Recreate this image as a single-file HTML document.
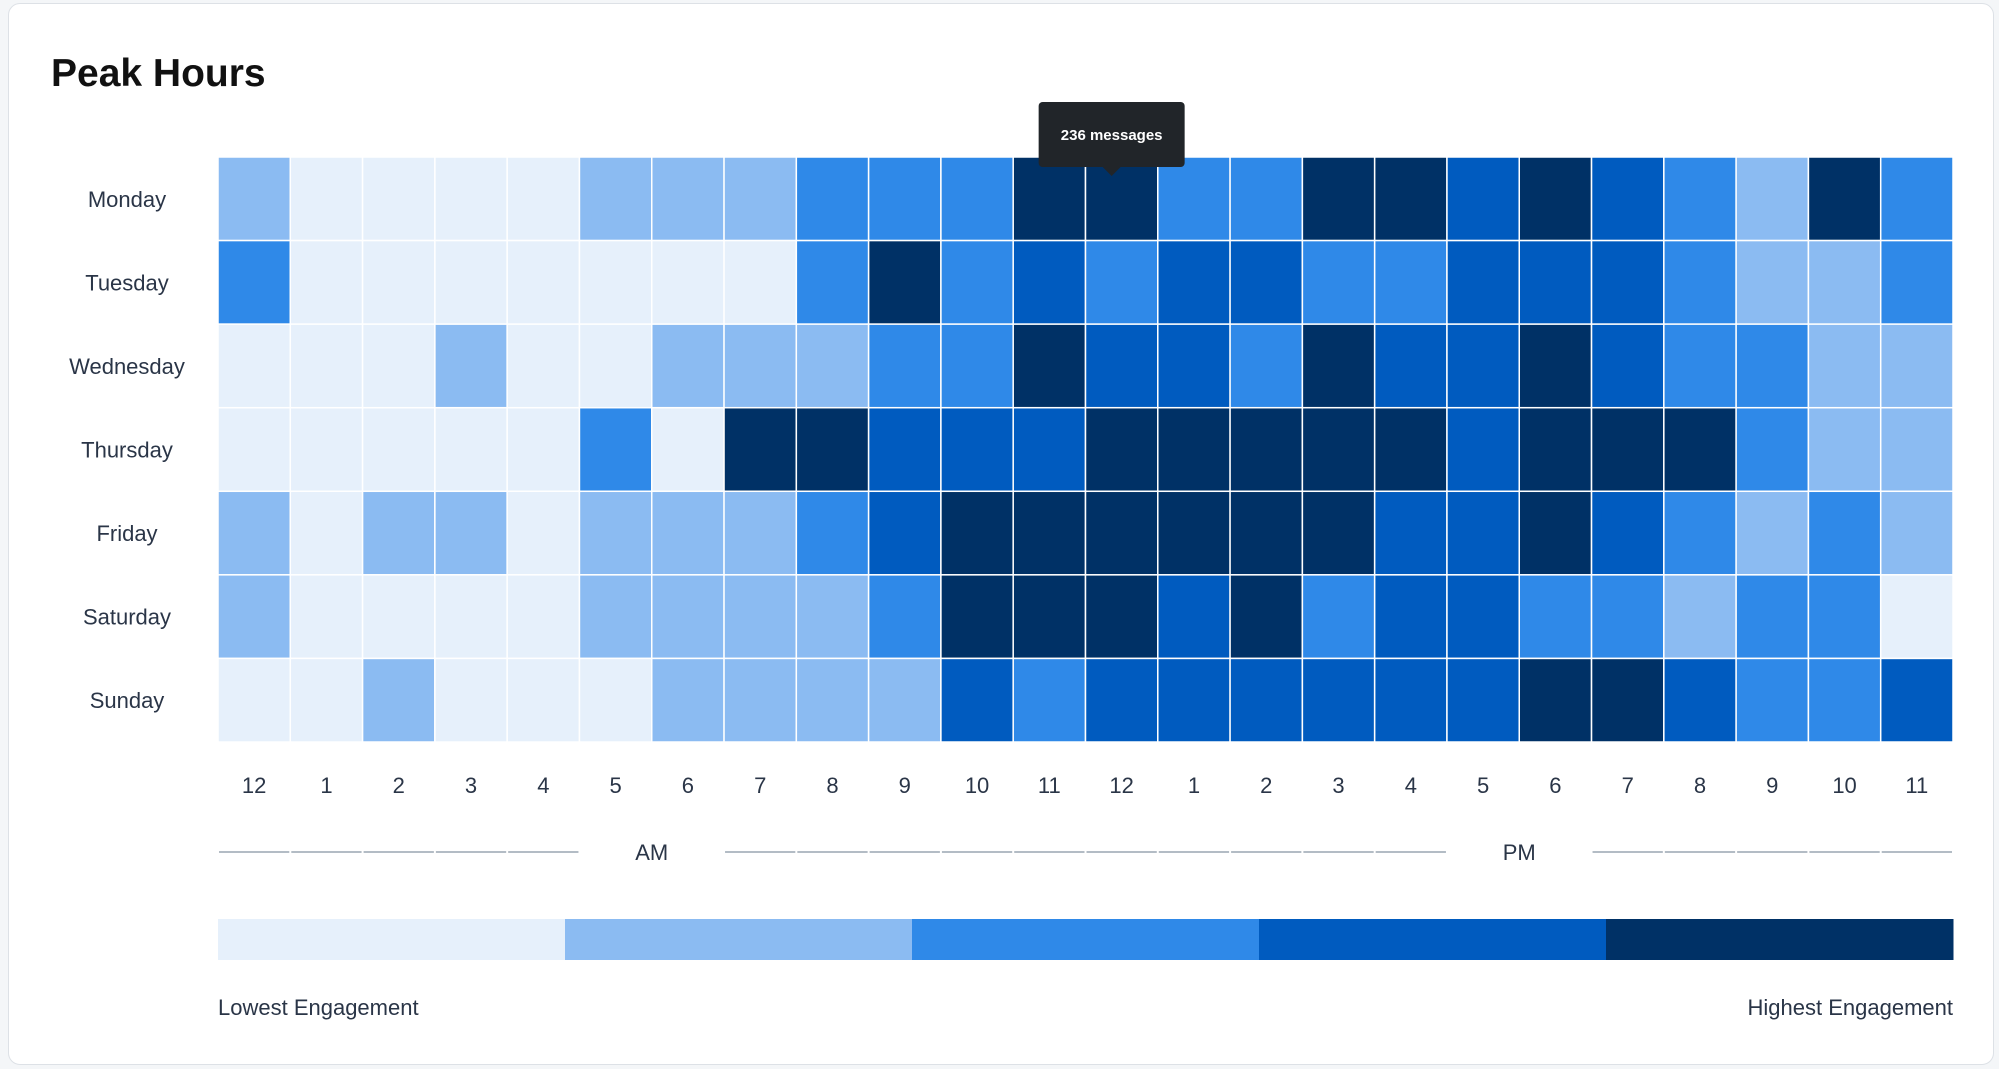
<!DOCTYPE html>
<html><head><meta charset="utf-8">
<style>
html,body{margin:0;padding:0;background:#f4f6f8;}
body{width:1999px;height:1069px;position:relative;overflow:hidden;font-family:"Liberation Sans",sans-serif;}
.card{position:absolute;left:8px;top:3px;width:1986px;height:1062px;background:#fff;border:1px solid #dde1e6;border-radius:12px;box-sizing:border-box;}
h1{position:absolute;left:51px;top:52px;margin:0;font-size:39px;font-weight:bold;color:#111;}
</style></head>
<body>
<div class="card"></div>
<h1>Peak Hours</h1>
<svg id="chart" width="1999" height="1069" style="position:absolute;left:0;top:0"></svg>
<script>
const days=["Monday","Tuesday","Wednesday","Thursday","Friday","Saturday","Sunday"];
const hourLabels=["12","1","2","3","4","5","6","7","8","9","10","11","12","1","2","3","4","5","6","7","8","9","10","11"];
const levelColors=["#e6f0fb","#8bbbf2","#2f89e8","#005bbf","#003166"];
const monday=[1,0,0,0,0,1,1,1,2,2,2,4,4,2,2,4,4,3,4,3,2,1,4,2];
const tuesday=[2,0,0,0,0,0,0,0,2,4,2,3,2,3,3,2,2,3,3,3,2,1,1,2];
const wednesday=[0,0,0,1,0,0,1,1,1,2,2,4,3,3,2,4,3,3,4,3,2,2,1,1];
const thursday=[0,0,0,0,0,2,0,4,4,3,3,3,4,4,4,4,4,3,4,4,4,2,1,1];
const friday=[1,0,1,1,0,1,1,1,2,3,4,4,4,4,4,4,3,3,4,3,2,1,2,1];
const saturday=[1,0,0,0,0,1,1,1,1,2,4,4,4,3,4,2,3,3,2,2,1,2,2,0];
const sunday=[0,0,1,0,0,0,1,1,1,1,3,2,3,3,3,3,3,3,4,4,3,2,2,3];
const values=[monday,tuesday,wednesday,thursday,friday,saturday,sunday];
const tooltipText="236 messages";
const tooltipDay=0, tooltipHour=12;

const NS="http://www.w3.org/2000/svg";
const svg=document.getElementById('chart');
const X0=218,X1=1953,Y0=157,Y1=742;
const cw=(X1-X0)/24, ch=(Y1-Y0)/7;
const x=i=>X0+i*cw, y=j=>Y0+j*ch;
function mk(t,a,txt){const e=document.createElementNS(NS,t);for(const k in a)e.setAttribute(k,a[k]);if(txt!==undefined)e.textContent=txt;svg.appendChild(e);return e;}
const lab={fill:"#2a3547","font-family":"Liberation Sans, sans-serif","font-size":"22"};
days.forEach((d,j)=>{
  const t=mk('text',Object.assign({x:127,y:y(j)+ch/2+8,"text-anchor":"middle"},lab),d);
  
  
  values[j].forEach((v,i)=>{
    const r=mk('rect',{x:x(i),y:y(j),width:cw,height:ch,fill:levelColors[v],stroke:"#fff","stroke-width":1.5});
    
    
  });
});
hourLabels.forEach((h,i)=>{
  const t=mk('text',Object.assign({x:x(i)+cw/2,y:793,"text-anchor":"middle"},lab),h);
  
  
  if(i===5||i===6||i===17||i===18)return;
  const l=mk('line',{x1:x(i)+1,x2:x(i+1)-1,y1:852,y2:852,stroke:"#9aa6b2","stroke-width":1.5});
  
  
});
[["AM",6],["PM",18]].forEach(([p,i])=>{
  const t=mk('text',Object.assign({x:x(i),y:860,"text-anchor":"middle"},lab),p);
  
  
});
const lw=(X1-X0)/levelColors.length;
levelColors.forEach((c,k)=>{
  const r=mk('rect',{x:X0+k*lw,y:919,width:lw+0.5,height:41,fill:c});
  
  
});
let t=mk('text',Object.assign({x:X0,y:1015},lab),"Lowest Engagement");


t=mk('text',Object.assign({x:X1,y:1015,"text-anchor":"end"},lab),"Highest Engagement");


// tooltip
const tx=x(tooltipHour)+cw/2-10, ty=y(tooltipDay);
const g=document.createElementNS(NS,'g');svg.appendChild(g);


const r=document.createElementNS(NS,'rect');
[['x',tx-73],['y',ty-55],['width',146],['height',65],['rx',4],['fill','#212529']].forEach(([k,v])=>r.setAttribute(k,v));g.appendChild(r);
const p=document.createElementNS(NS,'path');p.setAttribute('d',`M${tx-9} ${ty+10}L${tx} ${ty+19}L${tx+9} ${ty+10}Z`);p.setAttribute('fill','#212529');g.appendChild(p);
const tt=document.createElementNS(NS,'text');
[['x',tx],['y',ty-17],['text-anchor','middle'],['fill','#fff'],['font-family','Liberation Sans, sans-serif'],['font-size','15'],['font-weight','bold']].forEach(([k,v])=>tt.setAttribute(k,v));
tt.textContent=tooltipText;g.appendChild(tt);
</script>
</body></html>
